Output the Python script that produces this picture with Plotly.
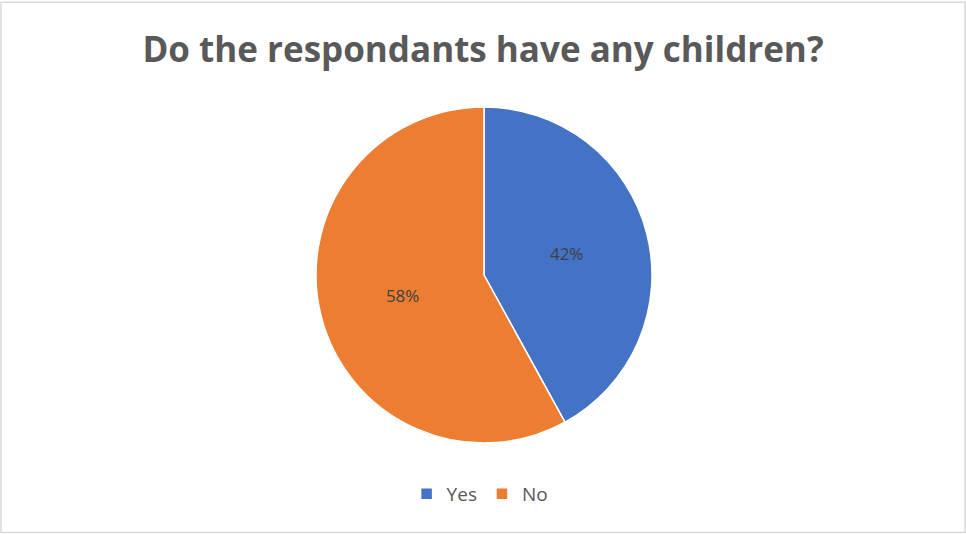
import plotly.graph_objects as go

labels = ["Yes", "No"]
values = [42, 58]
colors = ["#4472C4", "#ED7D31"]

W, H = 966, 534
cx, cy, r = 484, 275, 168

fig = go.Figure(go.Pie(
    labels=labels,
    values=values,
    sort=False,
    direction="clockwise",
    rotation=0,
    marker=dict(colors=colors, line=dict(color="white", width=1.5)),
    textinfo="percent",
    textposition="inside",
    insidetextorientation="horizontal",
    textfont=dict(family="Open Sans", size=17, color="#404040"),
    domain=dict(x=[(cx - r) / W, (cx + r) / W], y=[1 - (cy + r) / H, 1 - (cy - r) / H]),
    hoverinfo="label+percent",
))

fig.update_layout(
    width=W, height=H,
    margin=dict(l=0, r=0, t=0, b=0),
    paper_bgcolor="white",
    plot_bgcolor="white",
    title=dict(text="<b>Do the respondants have any children?</b>",
               x=0.5, xanchor="center", y=1 - 50 / H, yanchor="middle",
               font=dict(family="Open Sans", size=35, color="#595959")),
    showlegend=True,
    legend=dict(orientation="h", x=0.497, xanchor="center", y=1 - 494 / H, yanchor="middle",
                font=dict(family="Open Sans", size=19, color="#595959"),
                itemwidth=30, traceorder="normal"),
    shapes=[dict(type="rect", xref="paper", yref="paper", x0=0.001, x1=0.999, y0=0.003, y1=0.996,
                 line=dict(color="#D9D9D9", width=1.5), fillcolor="rgba(0,0,0,0)")],
)

fig.write_html("out.html", config={"displayModeBar": False},
               post_script="document.body.style.margin='0';document.body.style.overflow='hidden';")
